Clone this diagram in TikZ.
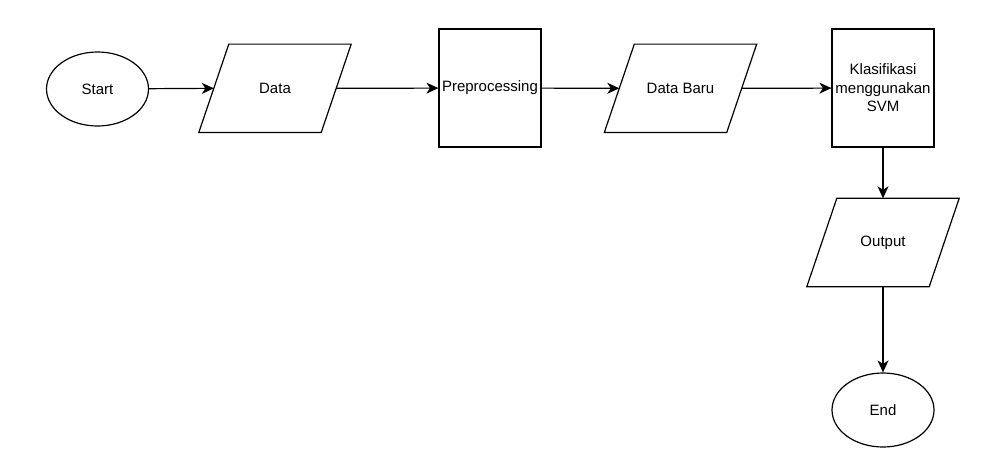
\documentclass[tikz,border=0pt]{standalone}
\usepackage{fontspec}
\setmainfont{Liberation Sans}
\usetikzlibrary{shapes.geometric,arrows.meta,calc}
\newcommand\paraout[1]{\draw[line width=1.2pt,line join=miter] ($(#1.north west)+(30,0)$) -- (#1.north east) -- ($(#1.south east)+(-30,0)$) -- (#1.south west) -- cycle;}
\begin{document}
\begin{tikzpicture}[x=1pt,y=-1pt,
  every node/.style={font=\fontsize{15}{18.5}\selectfont},
  term/.style={ellipse,draw,line width=1.2pt,minimum width=102pt,minimum height=74pt,inner sep=0pt},
  proc/.style={rectangle,draw,line width=1.2pt,minimum width=102pt,minimum height=118pt,inner sep=0pt,align=center},
  io/.style={rectangle,minimum width=152pt,minimum height=88pt,inner sep=0pt},
  conn/.style={line width=1.2pt,-{Stealth[length=12pt,width=11pt,inset=3.5pt]}}]
\useasboundingbox (0,0) rectangle (1001,474);
\node[term] (start) at (97.5,89) {Start};
\node[io] (data) at (275,88.3) {Data};
\node[proc] (pre) at (490,88) {Preprocessing};
\node[io] (baru) at (680.5,88.3) {Data Baru};
\node[proc] (svm) at (883,88) {Klasifikasi\\menggunakan\\SVM};
\node[io] (out) at (883,242.5) {Output};
\node[term] (end) at (883,410) {End};
\paraout{data}
\paraout{baru}
\paraout{out}
\draw[conn] (start) -- ([xshift=15pt]data.west);
\draw[conn] ([xshift=-15pt]data.east) -- (pre);
\draw[conn] (pre) -- ([xshift=15pt]baru.west);
\draw[conn] ([xshift=-15pt]baru.east) -- (svm);
\draw[conn] (svm) -- (out.north);
\draw[conn] (out.south) -- (end);
\end{tikzpicture}
\end{document}
